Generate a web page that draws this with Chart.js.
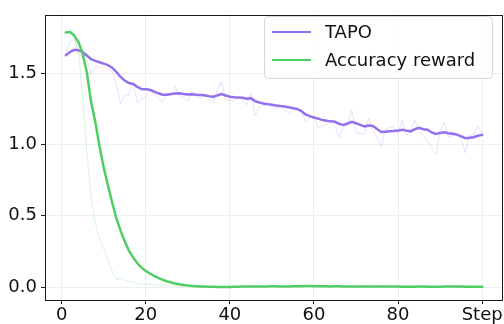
<!DOCTYPE html>
<html>
<head>
<meta charset="utf-8">
<script src="https://cdn.jsdelivr.net/npm/chart.js@4.4.0/dist/chart.umd.min.js"></script>
<style>
  html, body { margin: 0; padding: 0; background: #fff; }
  #wrap { width: 504px; height: 324px; }
</style>
</head>
<body>
<div id="wrap"><canvas id="myChart" width="504" height="324"></canvas></div>
<script>
// x values: training steps 1..100
const steps = Array.from({ length: 100 }, (_, i) => i + 1);

const xTicks = [0, 20, 40, 60, 80, 100];
const xTickLabels = ['0', '20', '40', '60', '80', 'Step'];
const yTicks = [0, 0.5, 1.0, 1.5];

// TAPO (smoothed + raw)
const tapoSmooth = [
  1.627, 1.650, 1.665, 1.663, 1.650, 1.625, 1.600, 1.588, 1.578, 1.568,
  1.558, 1.540, 1.510, 1.475, 1.450, 1.432, 1.425, 1.405, 1.390, 1.388,
  1.385, 1.372, 1.360, 1.350, 1.350, 1.355, 1.358, 1.360, 1.355, 1.352,
  1.354, 1.350, 1.348, 1.346, 1.340, 1.335, 1.345, 1.354, 1.345, 1.336,
  1.332, 1.330, 1.328, 1.322, 1.326, 1.305, 1.295, 1.288, 1.284, 1.280,
  1.275, 1.271, 1.268, 1.262, 1.256, 1.250, 1.235, 1.212, 1.200, 1.190,
  1.182, 1.172, 1.168, 1.163, 1.160, 1.145, 1.138, 1.148, 1.160, 1.150,
  1.138, 1.128, 1.134, 1.130, 1.110, 1.088, 1.090, 1.094, 1.096, 1.098,
  1.104, 1.098, 1.093, 1.108, 1.118, 1.108, 1.104, 1.085, 1.075, 1.082,
  1.086, 1.080, 1.076, 1.070, 1.058, 1.045, 1.048, 1.052, 1.062, 1.068
];
const tapoRaw = [
  1.643, 1.720, 1.745, 1.643, 1.610, 1.590, 1.500, 1.545, 1.545, 1.545,
  1.530, 1.515, 1.427, 1.286, 1.350, 1.345, 1.438, 1.295, 1.320, 1.336,
  1.382, 1.350, 1.325, 1.302, 1.359, 1.345, 1.404, 1.348, 1.330, 1.302,
  1.377, 1.340, 1.325, 1.348, 1.320, 1.295, 1.380, 1.445, 1.314, 1.310,
  1.302, 1.336, 1.310, 1.279, 1.354, 1.204, 1.265, 1.273, 1.279, 1.265,
  1.250, 1.263, 1.240, 1.222, 1.245, 1.240, 1.234, 1.159, 1.188, 1.195,
  1.120, 1.125, 1.140, 1.161, 1.132, 1.052, 1.120, 1.147, 1.239, 1.086,
  1.080, 1.075, 1.184, 1.100, 1.052, 0.980, 1.109, 1.120, 1.125, 1.079,
  1.170, 1.063, 1.100, 1.170, 1.097, 1.060, 1.029, 0.980, 0.927, 1.097,
  1.154, 1.052, 1.065, 1.075, 1.040, 0.943, 1.063, 1.070, 1.132, 1.075
];

// Accuracy reward (smoothed + raw)
const accSmooth = [
  1.786, 1.790, 1.765, 1.720, 1.640, 1.506, 1.300, 1.160, 0.990, 0.840,
  0.715, 0.595, 0.485, 0.398, 0.322, 0.255, 0.207, 0.167, 0.136, 0.113,
  0.095, 0.079, 0.064, 0.051, 0.041, 0.032, 0.025, 0.019, 0.014, 0.010,
  0.008, 0.006, 0.004, 0.003, 0.002, 0.002, 0.001, 0.001, 0.001, 0.001,
  0.002, 0.002, 0.003, 0.004, 0.004, 0.004, 0.003, 0.003, 0.004, 0.005,
  0.005, 0.004, 0.004, 0.004, 0.005, 0.006, 0.006, 0.007, 0.007, 0.006,
  0.006, 0.005, 0.005, 0.004, 0.005, 0.005, 0.004, 0.004, 0.004, 0.003,
  0.003, 0.004, 0.004, 0.003, 0.003, 0.004, 0.004, 0.003, 0.003, 0.003,
  0.002, 0.002, 0.002, 0.002, 0.003, 0.003, 0.002, 0.002, 0.002, 0.002,
  0.003, 0.003, 0.004, 0.003, 0.003, 0.002, 0.002, 0.002, 0.002, 0.002
];
const accRaw = [
  1.780, 1.813, 1.770, 1.640, 1.350, 0.939, 0.640, 0.450, 0.340, 0.270,
  0.190, 0.115, 0.052, 0.062, 0.048, 0.040, 0.030, 0.025, 0.020, 0.018,
  0.022, 0.015, 0.012, 0.016, 0.010, 0.008, 0.010, 0.006, 0.005, 0.008,
  0.004, 0.003, 0.000, 0.002, 0.001, 0.000, 0.001, 0.000, 0.002, 0.001,
  0.003, 0.004, 0.002, 0.006, 0.004, 0.003, 0.002, 0.005, 0.006, 0.004,
  0.003, 0.004, 0.006, 0.005, 0.008, 0.006, 0.004, 0.009, 0.006, 0.005,
  0.006, 0.004, 0.003, 0.006, 0.004, 0.005, 0.002, 0.004, 0.003, 0.002,
  0.004, 0.005, 0.002, 0.003, 0.004, 0.003, 0.002, 0.003, 0.002, 0.001,
  0.002, 0.001, 0.003, 0.002, 0.004, 0.002, 0.001, 0.002, 0.003, 0.002,
  0.004, 0.003, 0.005, 0.002, 0.002, 0.001, 0.002, 0.003, 0.002, 0.002
];

const purple = '#9370f0';
const green = '#4fcf63';
const font = { family: 'DejaVu Sans', size: 18 };

const toPoints = (vals) => vals.map((v, i) => ({ x: steps[i], y: v }));

// matplotlib-like frame + legend box inside the axes
const framePlugin = {
  id: 'frame',
  afterDraw(chart) {
    const { ctx, chartArea: a } = chart;
    ctx.save();
    ctx.strokeStyle = '#1a1a1a';
    ctx.lineWidth = 1;
    ctx.strokeRect(Math.round(a.left) + 0.5, Math.round(a.top) + 0.5,
      Math.round(a.right - a.left) - 1, Math.round(a.bottom - a.top));

    // legend, in the order TAPO then Accuracy reward
    const items = chart.data.datasets
      .filter(d => d.legendRank)
      .sort((p, q) => p.legendRank - q.legendRank);
    const bx = 264.5, by = 16.5, bw = 228, bh = 62, r = 4;
    ctx.beginPath();
    ctx.moveTo(bx + r, by);
    ctx.arcTo(bx + bw, by, bx + bw, by + bh, r);
    ctx.arcTo(bx + bw, by + bh, bx, by + bh, r);
    ctx.arcTo(bx, by + bh, bx, by, r);
    ctx.arcTo(bx, by, bx + bw, by, r);
    ctx.closePath();
    ctx.fillStyle = 'rgba(255,255,255,0.8)';
    ctx.fill();
    ctx.strokeStyle = '#d6d6d6';
    ctx.stroke();

    ctx.font = '18px "DejaVu Sans"';
    ctx.textBaseline = 'middle';
    ctx.textAlign = 'left';
    items.forEach((d, i) => {
      const y = 32 + i * 28;
      ctx.strokeStyle = d.borderColor;
      ctx.lineWidth = 2;
      ctx.beginPath();
      ctx.moveTo(272, y);
      ctx.lineTo(311, y);
      ctx.stroke();
      ctx.fillStyle = '#111';
      ctx.fillText(d.label, 325, y + 1);
    });
    ctx.restore();
  }
};

const ctx = document.getElementById('myChart').getContext('2d');
const chart = new Chart(ctx, {
  type: 'line',
  data: {
    datasets: [
      { label: 'Accuracy reward', data: toPoints(accSmooth), borderColor: green,
        borderWidth: 2.5, legendRank: 2, order: 1 },
      { label: 'TAPO', data: toPoints(tapoSmooth), borderColor: purple,
        borderWidth: 2.5, legendRank: 1, order: 2 },
      { label: 'Accuracy raw', data: toPoints(accRaw), borderColor: 'rgba(79,207,99,0.22)',
        borderWidth: 1, order: 3 },
      { label: 'TAPO raw', data: toPoints(tapoRaw), borderColor: 'rgba(147,112,240,0.22)',
        borderWidth: 1, order: 4 }
    ]
  },
  options: {
    responsive: false,
    animation: false,
    events: [],
    elements: { point: { radius: 0 }, line: { tension: 0, borderCapStyle: 'round' } },
    layout: { padding: { top: 6, right: 1, left: 0, bottom: 0 } },
    plugins: { legend: { display: false }, tooltip: { enabled: false } },
    scales: {
      x: {
        type: 'linear',
        min: -3.95,
        max: 104.95,
        afterBuildTicks: (scale) => { scale.ticks = xTicks.map(v => ({ value: v })); },
        afterFit: (scale) => { scale.height = 24; },
        ticks: {
          font: font, color: '#111', padding: 1, maxRotation: 0,
          callback: (v) => xTickLabels[xTicks.indexOf(v)]
        },
        grid: { color: '#eeeeee', lineWidth: 1, tickLength: 4, tickColor: '#222' },
        border: { display: false }
      },
      y: {
        type: 'linear',
        min: -0.091,
        max: 1.911,
        afterBuildTicks: (scale) => { scale.ticks = yTicks.map(v => ({ value: v })); },
        afterFit: (scale) => { scale.width = 45; },
        ticks: {
          font: font, color: '#111', padding: 4,
          callback: (v) => v.toFixed(1)
        },
        grid: { color: '#eeeeee', lineWidth: 1, tickLength: 4, tickColor: '#222' },
        border: { display: false }
      }
    }
  },
  plugins: [framePlugin]
});
</script>
</body>
</html>
